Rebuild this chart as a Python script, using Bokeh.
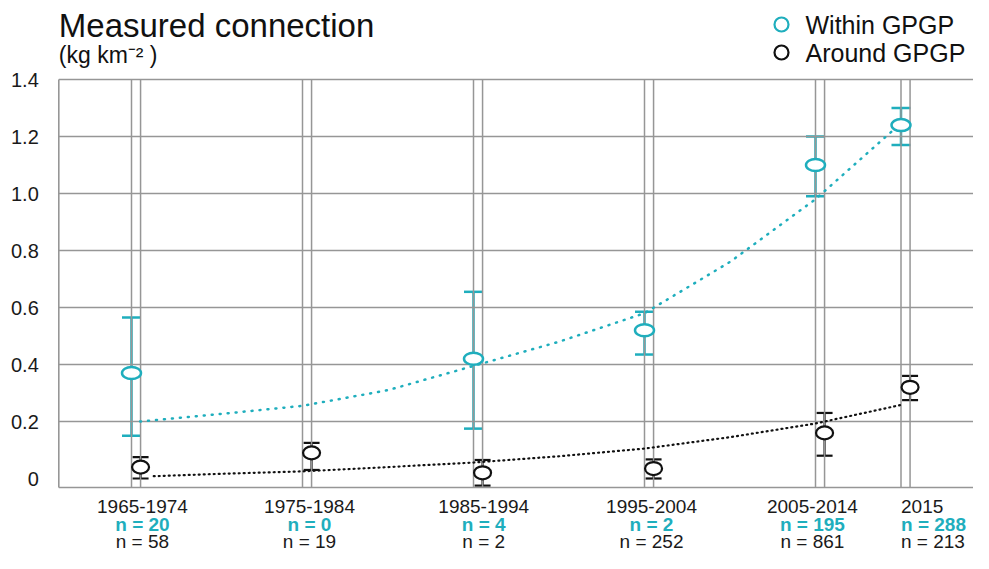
from bokeh.plotting import figure
from bokeh.models import (Range1d, Whisker, TeeHead, ColumnDataSource, Label)
from bokeh.embed import file_html
from bokeh.resources import INLINE

# ---------------- data ----------------
categories = ["1965-1974", "1975-1984", "1985-1994", "1995-2004", "2005-2014", "2015"]
years = [1970, 1980, 1990, 2000, 2010, 2015]
n_within = [20, 0, 4, 2, 195, 288]
n_around = [58, 19, 2, 252, 861, 213]

within_years = [1970, 1990, 2000, 2010, 2015]
within_mean = [0.37, 0.42, 0.52, 1.10, 1.24]
within_lo = [0.15, 0.175, 0.435, 0.99, 1.17]
within_hi = [0.565, 0.655, 0.585, 1.20, 1.30]

around_years = [1970, 1980, 1990, 2000, 2010, 2015]
around_mean = [0.04, 0.09, 0.02, 0.035, 0.16, 0.32]
around_lo = [0.0, 0.03, -0.025, 0.0, 0.08, 0.275]
around_hi = [0.075, 0.125, 0.065, 0.067, 0.23, 0.36]

trend_within_x = [1970.5, 1975, 1980, 1985, 1990, 1995, 2000, 2005, 2010, 2014.5]
trend_within_y = [0.20, 0.225, 0.255, 0.31, 0.395, 0.48, 0.58, 0.76, 0.98, 1.22]
trend_around_x = [1971.3, 1975, 1980, 1985, 1990, 1995, 2000, 2005, 2010, 2015]
trend_around_y = [0.008, 0.016, 0.025, 0.04, 0.056, 0.078, 0.105, 0.145, 0.193, 0.258]

y_ticks = [0, 0.2, 0.4, 0.6, 0.8, 1.0, 1.2, 1.4]
y_tick_labels = ["0", "0.2", "0.4", "0.6", "0.8", "1.0", "1.2", "1.4"]
grid_y = [0.2, 0.4, 0.6, 0.8, 1.0, 1.2, 1.4]

series_names = ["Within GPGP", "Around GPGP"]

label_x = [1970.64, 1980.41, 1990.6, 2000.41, 2009.82, 2015.0]
label_align = ["center", "center", "center", "center", "center", "left"]

# ---------------- style / layout ----------------
CYAN = "#1FAEBD"
BLACK = "#111111"
GRID = "#969696"
FONT = "Liberation Sans"
PAIR = 0.53          # offset (years) of the second line of each pair
W, H = 973, 553
PX_PER_YEAR = 17.1
PX_PER_UNIT = 285.0
# canvas pixel of year 1970 and of value 0
X_REF_PX, Y_REF_PX = 131.0, 478.0


def px_x(px):
    return 1970 + (px - X_REF_PX) / PX_PER_YEAR


def px_y(py):
    return (Y_REF_PX - py) / PX_PER_UNIT


X_LEFT, X_RIGHT = px_x(0), px_x(W)
Y_TOP, Y_BOTTOM = px_y(0), px_y(H)
PX0 = px_x(58.3)     # left edge of plotting area
PY0 = px_y(487)      # bottom edge of plotting area
PY1 = 1.4

p = figure(width=W, height=H, output_backend="svg", toolbar_location=None,
           x_range=Range1d(X_LEFT, X_RIGHT), y_range=Range1d(Y_BOTTOM, Y_TOP),
           min_border=0, min_border_left=0, min_border_right=0,
           min_border_top=0, min_border_bottom=0)
p.outline_line_color = None
p.background_fill_color = "white"
p.axis.visible = False
p.grid.visible = False

# grid lines
p.segment(x0=[PX0] * len(grid_y), y0=grid_y, x1=[X_RIGHT] * len(grid_y), y1=grid_y,
          line_color=GRID, line_width=1.5)
vx = sorted(years + [y + PAIR for y in years])
p.segment(x0=vx, y0=[PY0] * len(vx), x1=vx, y1=[PY1] * len(vx),
          line_color=GRID, line_width=1.5)
p.segment(x0=[PX0, PX0], y0=[PY0, PY0], x1=[PX0, X_RIGHT], y1=[PY1, PY0],
          line_color=GRID, line_width=1.6)

# y tick labels
p.text(x=[PX0] * len(y_ticks), y=y_ticks, text=y_tick_labels, x_offset=-20,
       text_align="right", text_baseline="middle", text_font={"value": FONT},
       text_font_size="20px", text_color="#1a1a1a")

# trend lines
p.line(trend_within_x, trend_within_y, line_color=CYAN, line_width=2.5,
       line_dash="1 7", line_cap="round")
p.line(trend_around_x, trend_around_y, line_color=BLACK, line_width=2.2,
       line_dash="1 4", line_cap="round")

src_w = ColumnDataSource(dict(x=within_years, y=within_mean, lo=within_lo, hi=within_hi))
src_a = ColumnDataSource(dict(x=[v + PAIR for v in around_years], y=around_mean,
                              lo=around_lo, hi=around_hi))

ww = Whisker(source=src_w, base="x", upper="hi", lower="lo", dimension="height",
             line_color=CYAN, line_width=2.5, level="underlay",
             upper_head=TeeHead(size=19, line_color=CYAN, line_width=2.5),
             lower_head=TeeHead(size=19, line_color=CYAN, line_width=2.5))
wa = Whisker(source=src_a, base="x", upper="hi", lower="lo", dimension="height",
             line_color=BLACK, line_width=2.2, level="underlay",
             upper_head=TeeHead(size=16, line_color=BLACK, line_width=2.2),
             lower_head=TeeHead(size=16, line_color=BLACK, line_width=2.2))
p.add_layout(ww)
p.add_layout(wa)

p.ellipse(x="x", y="y", width=19, height=12, width_units="screen", height_units="screen",
          fill_color="white", line_color=CYAN, line_width=2.5, source=src_w)
p.ellipse(x="x", y="y", width=17, height=13, width_units="screen", height_units="screen",
          fill_color="white", line_color=BLACK, line_width=2.2, source=src_a)

# legend
leg_y = [px_y(24), px_y(52)]
p.scatter(x=[px_x(781)] * 2, y=leg_y, marker="circle", size=14, fill_color="white",
          line_color=[CYAN, BLACK], line_width=2.2)
for i, name in enumerate(series_names):
    p.add_layout(Label(x=px_x(805), y=leg_y[i], text=name, text_font=FONT,
                       text_font_size="25px", text_color=BLACK, text_baseline="middle"))

# title
p.add_layout(Label(x=PX0, y=px_y(25), text="Measured connection", text_font=FONT,
                   text_font_size="33px", text_color=BLACK, text_baseline="middle"))
p.add_layout(Label(x=PX0, y=px_y(54), text="(kg km\u207b\u00b2 )", text_font=FONT,
                   text_font_size="23px", text_color=BLACK, text_baseline="middle"))

# category labels
row_y = [px_y(506), px_y(524), px_y(541)]
for i, cat in enumerate(categories):
    common = dict(x=label_x[i], text_align=label_align[i], text_baseline="middle",
                  text_font=FONT, text_font_size="19px")
    p.add_layout(Label(y=row_y[0], text=cat, text_color="#1a1a1a", **common))
    p.add_layout(Label(y=row_y[1], text=f"n = {n_within[i]}", text_color=CYAN,
                       text_font_style="bold", **common))
    p.add_layout(Label(y=row_y[2], text=f"n = {n_around[i]}", text_color="#1a1a1a", **common))

open("out.html", "w").write(file_html(p, INLINE))
